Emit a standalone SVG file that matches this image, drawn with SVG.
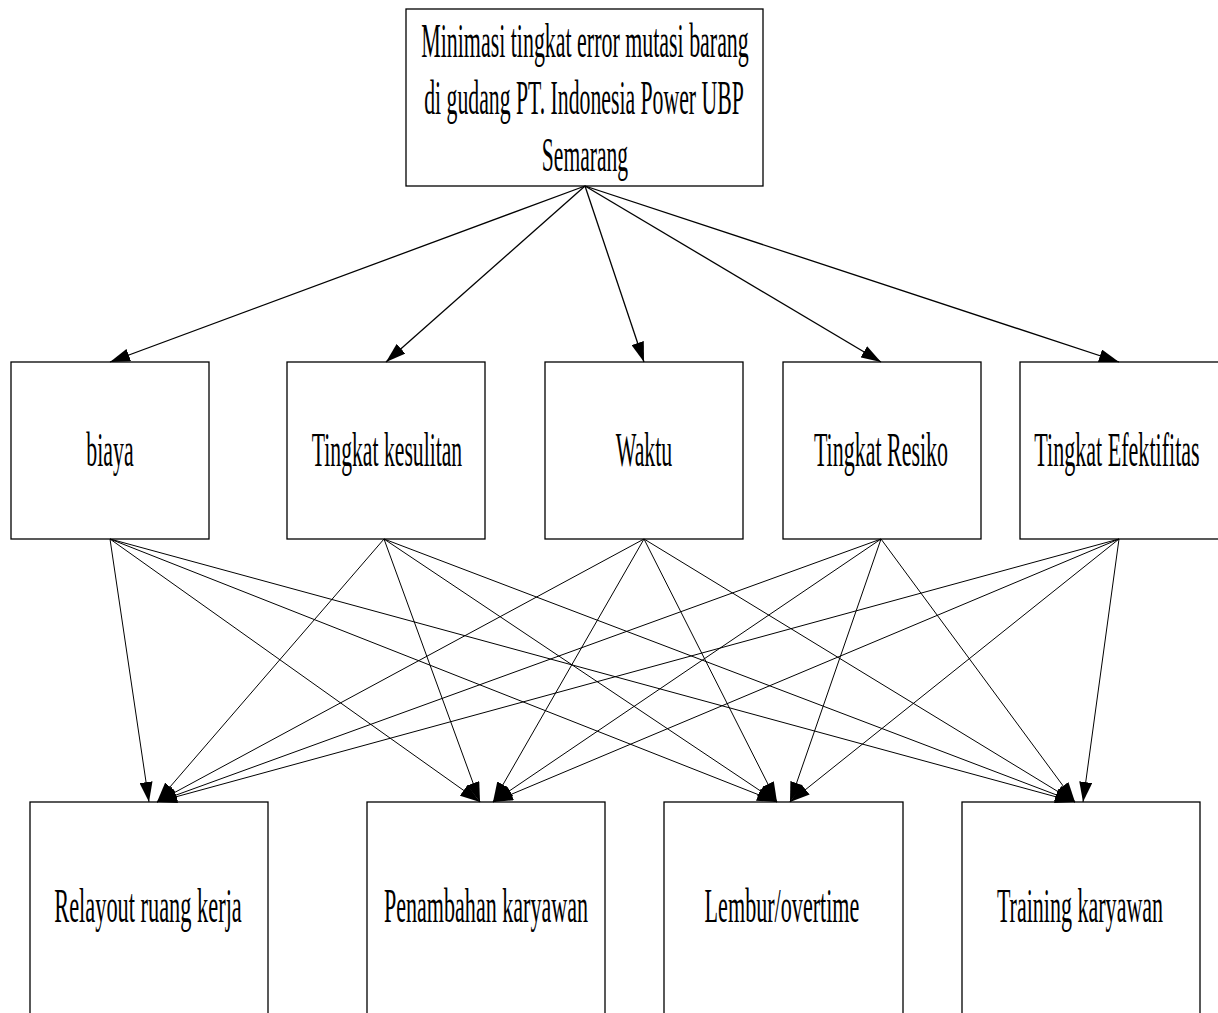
<svg xmlns="http://www.w3.org/2000/svg" width="1218" height="1013" viewBox="0 0 1218 1013">
<style>
.box{fill:#fff;stroke:#000;stroke-width:1.3}
.lbl{font-family:"Liberation Serif","Times New Roman",serif;font-size:48px;fill:#000;text-anchor:middle}
.c1{stroke:#000;stroke-width:1.3;fill:none}
.c2{stroke:#000;stroke-width:1;fill:none}
</style>
<defs>
<marker id="arr" viewBox="0 0 20 13" markerWidth="20" markerHeight="13" markerUnits="userSpaceOnUse" refX="20" refY="6.5" orient="auto">
<path d="M0,0 L20,6.5 L0,13 Z" fill="#000"/>
</marker>
</defs>
<rect width="1218" height="1013" fill="#fff"/>

<g id="n-top">
<rect class="box" x="406" y="9" width="357" height="177"/>
<text class="lbl" transform="translate(585 57) scale(0.457 1)">Minimasi tingkat error mutasi barang</text>
<text class="lbl" transform="translate(584 114) scale(0.453 1)">di gudang PT. Indonesia Power UBP</text>
<text class="lbl" transform="translate(585 171) scale(0.45 1)">Semarang</text>
</g>

<g id="n-biaya">
<rect class="box" x="11" y="362" width="198" height="177"/>
<text class="lbl" transform="translate(110 466) scale(0.455 1)">biaya</text>
</g>
<g id="n-kesulitan">
<rect class="box" x="287" y="362" width="198" height="177"/>
<text class="lbl" transform="translate(387 466) scale(0.452 1)">Tingkat kesulitan</text>
</g>
<g id="n-waktu">
<rect class="box" x="545" y="362" width="198" height="177"/>
<text class="lbl" transform="translate(644 466) scale(0.455 1)">Waktu</text>
</g>
<g id="n-resiko">
<rect class="box" x="783" y="362" width="198" height="177"/>
<text class="lbl" transform="translate(881 466) scale(0.458 1)">Tingkat Resiko</text>
</g>
<g id="n-efektifitas">
<rect class="box" x="1020" y="362" width="205" height="177"/>
<text class="lbl" transform="translate(1117 466) scale(0.46 1)">Tingkat Efektifitas</text>
</g>

<g id="n-relayout">
<rect class="box" x="30" y="802" width="238" height="240"/>
<text class="lbl" transform="translate(148 922) scale(0.466 1)">Relayout ruang kerja</text>
</g>
<g id="n-penambahan">
<rect class="box" x="367" y="802" width="238" height="240"/>
<text class="lbl" transform="translate(486 922) scale(0.46 1)">Penambahan karyawan</text>
</g>
<g id="n-lembur">
<rect class="box" x="664" y="802" width="239" height="240"/>
<text class="lbl" transform="translate(782 922) scale(0.461 1)">Lembur/overtime</text>
</g>
<g id="n-training">
<rect class="box" x="962" y="802" width="238" height="240"/>
<text class="lbl" transform="translate(1080 922) scale(0.459 1)">Training karyawan</text>
</g>

<g id="connectors">
<line class="c1" x1="585" y1="186" x2="110" y2="362" marker-end="url(#arr)"/>
<line class="c1" x1="585" y1="186" x2="386" y2="362" marker-end="url(#arr)"/>
<line class="c1" x1="585" y1="186" x2="644" y2="362" marker-end="url(#arr)"/>
<line class="c1" x1="585" y1="186" x2="881" y2="362" marker-end="url(#arr)"/>
<line class="c1" x1="585" y1="186" x2="1119" y2="362" marker-end="url(#arr)"/>

<line class="c2" x1="110" y1="539" x2="149" y2="802" marker-end="url(#arr)"/>
<line class="c2" x1="110" y1="539" x2="480" y2="802" marker-end="url(#arr)"/>
<line class="c2" x1="110" y1="539" x2="777" y2="802" marker-end="url(#arr)"/>
<line class="c2" x1="110" y1="539" x2="1075" y2="802" marker-end="url(#arr)"/>

<line class="c2" x1="384" y1="539" x2="157" y2="802" marker-end="url(#arr)"/>
<line class="c2" x1="384" y1="539" x2="480" y2="802" marker-end="url(#arr)"/>
<line class="c2" x1="384" y1="539" x2="777" y2="802" marker-end="url(#arr)"/>
<line class="c2" x1="384" y1="539" x2="1075" y2="802" marker-end="url(#arr)"/>

<line class="c2" x1="644" y1="539" x2="157" y2="802" marker-end="url(#arr)"/>
<line class="c2" x1="644" y1="539" x2="493" y2="802" marker-end="url(#arr)"/>
<line class="c2" x1="644" y1="539" x2="777" y2="802" marker-end="url(#arr)"/>
<line class="c2" x1="644" y1="539" x2="1075" y2="802" marker-end="url(#arr)"/>

<line class="c2" x1="881" y1="539" x2="157" y2="802" marker-end="url(#arr)"/>
<line class="c2" x1="881" y1="539" x2="493" y2="802" marker-end="url(#arr)"/>
<line class="c2" x1="881" y1="539" x2="790" y2="802" marker-end="url(#arr)"/>
<line class="c2" x1="881" y1="539" x2="1075" y2="802" marker-end="url(#arr)"/>

<line class="c2" x1="1119" y1="539" x2="157" y2="802" marker-end="url(#arr)"/>
<line class="c2" x1="1119" y1="539" x2="493" y2="802" marker-end="url(#arr)"/>
<line class="c2" x1="1119" y1="539" x2="790" y2="802" marker-end="url(#arr)"/>
<line class="c2" x1="1119" y1="539" x2="1083" y2="802" marker-end="url(#arr)"/>
</g>
</svg>
